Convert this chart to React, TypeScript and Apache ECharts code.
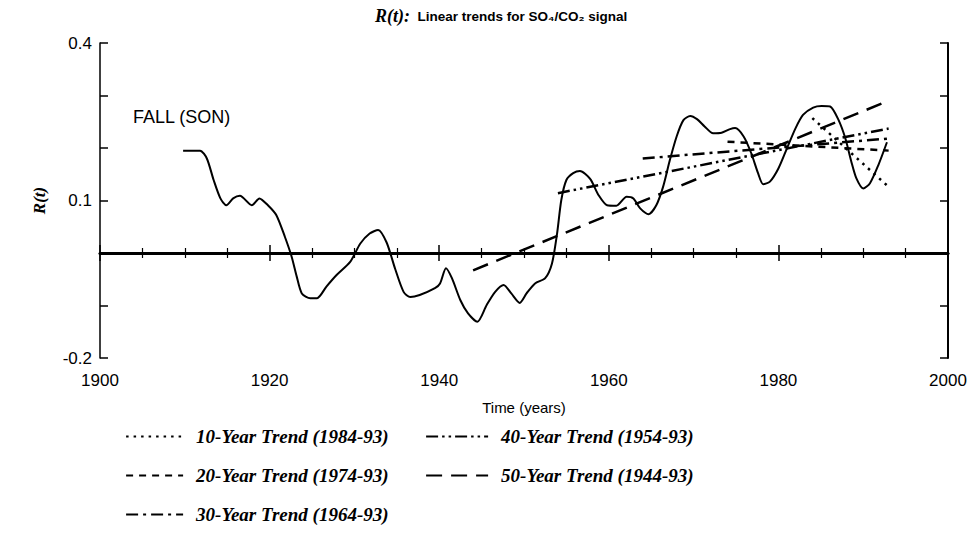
import React, { useEffect, useRef } from 'react';
import * as echarts from 'echarts';

// ---- data ----
const YEARS = [
  1909.8, 1911.8, 1912.6, 1913.4, 1914.2, 1914.9, 1915.7, 1916.5, 1917.9, 1918.8,
  1919.8, 1920.8, 1921.8, 1922.6, 1923.2, 1923.8, 1924.8, 1925.6, 1926.7, 1927.9,
  1929.5, 1930.7, 1931.8, 1932.8, 1933.8, 1934.8, 1935.8, 1936.6, 1937.7, 1939.5,
  1940.1, 1940.8, 1941.5, 1942.5, 1943.4, 1944.5, 1945.6, 1946.6, 1947.6, 1948.5,
  1949.5, 1950.3, 1951.3, 1952.5, 1953.3, 1953.9, 1954.4, 1955.0, 1955.8, 1956.6,
  1957.8, 1958.8, 1959.8, 1960.9, 1962.1, 1962.9, 1963.7, 1964.7, 1965.6, 1966.4,
  1967.2, 1968.0, 1968.8, 1969.6, 1970.4, 1971.3, 1972.3, 1973.3, 1974.3, 1974.9,
  1975.9, 1976.8, 1977.6, 1978.2, 1979.0, 1980.0, 1981.0, 1982.0, 1982.9, 1984.1,
  1985.1, 1986.1, 1987.1, 1987.9, 1988.6, 1989.2, 1990.0, 1990.8, 1991.8, 1992.8,
];
const R_VALUES = [
  0.195, 0.195, 0.18, 0.139, 0.104, 0.091, 0.104, 0.109, 0.091, 0.104,
  0.091, 0.072, 0.031, -0.007, -0.045, -0.077, -0.086, -0.086, -0.064, -0.042,
  -0.017, 0.018, 0.037, 0.044, 0.02, -0.03, -0.074, -0.084, -0.08, -0.067,
  -0.058, -0.029, -0.048, -0.09, -0.115, -0.131, -0.099, -0.074, -0.061, -0.077,
  -0.095, -0.077, -0.058, -0.048, -0.02, 0.037, 0.101, 0.139, 0.152, 0.156,
  0.141, 0.11, 0.091, 0.09, 0.107, 0.104, 0.085, 0.074, 0.091, 0.126,
  0.177, 0.222, 0.253, 0.261, 0.255, 0.241, 0.228, 0.229, 0.236, 0.238,
  0.222, 0.19, 0.152, 0.131, 0.136, 0.161, 0.199, 0.237, 0.263, 0.277,
  0.28, 0.279, 0.253, 0.218, 0.174, 0.142, 0.123, 0.133, 0.168, 0.211,
];

const TREND_NAMES = [
  '10-Year Trend (1984-93)',
  '20-Year Trend (1974-93)',
  '30-Year Trend (1964-93)',
  '40-Year Trend (1954-93)',
  '50-Year Trend (1944-93)',
];
const TREND_START_YEARS = [1984, 1974, 1964, 1954, 1944];
const TREND_END_YEARS = [1993, 1993, 1993, 1993, 1993];
const TREND_START_VALUES = [0.257, 0.212, 0.18, 0.114, -0.033];
const TREND_END_VALUES = [0.126, 0.195, 0.218, 0.237, 0.29];

const ZERO_LINE = [0];
const Y_LABELED_TICKS = [0.4, 0.1, -0.2];

// ---- styles ----
const TREND_DASHES: number[][] = [
  [2.5, 5],
  [7, 6],
  [12, 5, 3, 5],
  [12, 4, 2.5, 4, 2.5, 4],
  [16, 9],
];

const SANS = 'Liberation Sans, Arial, sans-serif';
const SERIF = 'Liberation Serif, Times New Roman, serif';

export default function App() {
  const ref = useRef<HTMLDivElement>(null);

  useEffect(() => {
    document.body.style.margin = '0';
    if (!ref.current) return;
    const chart = echarts.init(ref.current, undefined, { renderer: 'svg' });

    const frameTick = (len: number) => ({ show: true, inside: true, length: len, lineStyle: { color: '#000', width: 1.5 } });

    const trendSeries = TREND_NAMES.map((name, i) => ({
      name,
      type: 'line',
      symbol: 'none',
      silent: true,
      color: '#000',
      data: [
        [TREND_START_YEARS[i], TREND_START_VALUES[i]],
        [TREND_END_YEARS[i], TREND_END_VALUES[i]],
      ],
      lineStyle: { color: '#000', width: 2.5, type: TREND_DASHES[i] },
      z: 3,
    }));

    const legendText = {
      fontFamily: SERIF,
      fontStyle: 'italic',
      fontWeight: 'bold',
      fontSize: 19,
      color: '#000',
      padding: [0, 0, 0, 8],
    };
    const hiddenSymbol = { color: 'transparent', borderColor: 'transparent', borderWidth: 0, opacity: 0 };
    const legendBase = {
      orient: 'vertical',
      top: 427,
      padding: 0,
      itemHeight: 14,
      itemGap: 20,
      itemStyle: hiddenSymbol,
      lineStyle: { width: 2.2 },
      textStyle: legendText,
      selectedMode: false,
    };

    chart.setOption({
      animation: false,
      backgroundColor: '#fff',
      title: {
        text: '{r|R(t):}{s|  Linear trends for SO₄/CO₂ signal}',
        left: 370,
        top: 2,
        textStyle: {
          rich: {
            r: { fontFamily: SERIF, fontStyle: 'italic', fontWeight: 'bold', fontSize: 18, color: '#000' },
            s: { fontFamily: SANS, fontSize: 13.5, color: '#000' },
          },
        },
      },
      grid: { left: 100, right: 24, top: 43, bottom: 194, containLabel: false },
      legend: [
        { ...legendBase, data: TREND_NAMES.slice(0, 3), left: 125, itemWidth: 57 },
        { ...legendBase, data: TREND_NAMES.slice(3), left: 425, itemWidth: 62 },
      ],
      graphic: [
        {
          type: 'text',
          left: 133,
          top: 108,
          style: { text: 'FALL (SON)', fontFamily: SANS, fontSize: 18, fill: '#000' },
        },
      ],
      xAxis: [
        {
          type: 'value',
          min: 1900,
          max: 2000,
          interval: 20,
          position: 'bottom',
          name: 'Time (years)',
          nameLocation: 'middle',
          nameGap: 42,
          nameTextStyle: { fontFamily: SANS, fontSize: 15, color: '#000' },
          axisLine: { show: true, lineStyle: { color: '#000', width: 2.5 } },
          axisTick: frameTick(8),
          minorTick: { show: true, splitNumber: 4, length: 5, lineStyle: { color: '#000', width: 1.2 } },
          splitLine: { show: false },
          minorSplitLine: { show: false },
          axisLabel: { fontFamily: SANS, fontSize: 17, color: '#000', margin: 14, formatter: (v: number) => String(v) },
        },
        {
          type: 'value',
          min: 1900,
          max: 2000,
          interval: 20,
          position: 'top',
          axisLine: { show: true, lineStyle: { color: '#000', width: 3 } },
          axisTick: frameTick(8),
          minorTick: { show: true, splitNumber: 4, length: 5, lineStyle: { color: '#000', width: 1.2 } },
          splitLine: { show: false },
          axisLabel: { show: false },
        },
      ],
      yAxis: [
        {
          type: 'value',
          min: -0.2,
          max: 0.4,
          interval: 0.1,
          position: 'left',
          name: 'R(t)',
          nameLocation: 'middle',
          nameGap: 52,
          nameTextStyle: { fontFamily: SERIF, fontStyle: 'italic', fontWeight: 'bold', fontSize: 17, color: '#000' },
          axisLine: { show: true, lineStyle: { color: '#000', width: 1.5 } },
          axisTick: frameTick(8),
          splitLine: { show: false },
          axisLabel: {
            fontFamily: SANS,
            fontSize: 17,
            color: '#000',
            margin: 8,
            formatter: (v: number) => (Y_LABELED_TICKS.some((t) => Math.abs(t - v) < 1e-6) ? String(Math.round(v * 10) / 10) : ''),
          },
        },
        {
          type: 'value',
          min: -0.2,
          max: 0.4,
          interval: 0.1,
          position: 'right',
          axisLine: { show: true, lineStyle: { color: '#000', width: 2 } },
          axisTick: frameTick(8),
          splitLine: { show: false },
          axisLabel: { show: false },
        },
      ],
      series: [
        {
          name: 'R(t)',
          type: 'line',
          symbol: 'none',
          silent: true,
          smooth: 0.25,
          color: '#000',
          data: YEARS.map((y, i) => [y, R_VALUES[i]]),
          lineStyle: { color: '#000', width: 2 },
          z: 4,
          markLine: {
            silent: true,
            symbol: 'none',
            label: { show: false },
            lineStyle: { color: '#000', width: 2.5, type: 'solid' },
            data: ZERO_LINE.map((v) => ({ yAxis: v })),
          },
        },
        ...trendSeries,
      ],
    });

    return () => chart.dispose();
  }, []);

  return <div ref={ref} style={{ width: 972, height: 552 }} />;
}
